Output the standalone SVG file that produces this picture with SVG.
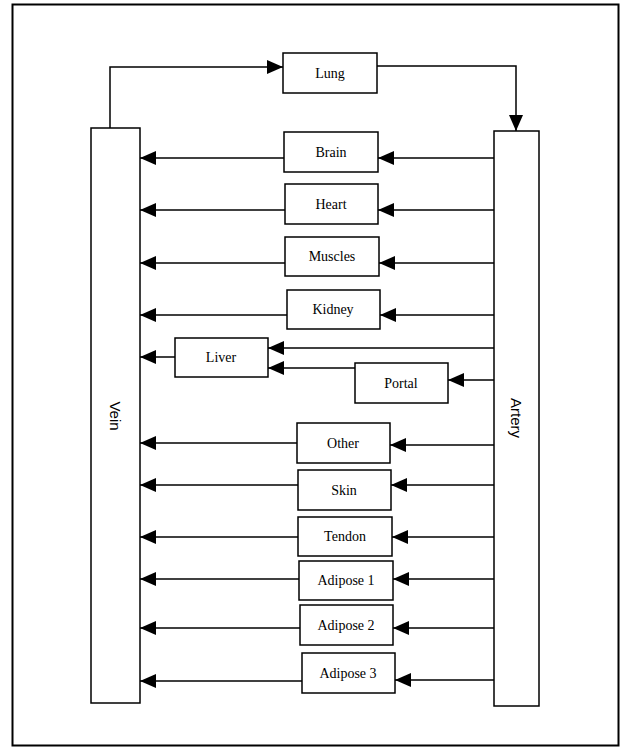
<svg xmlns="http://www.w3.org/2000/svg" width="621" height="747" viewBox="0 0 621 747">
<style>
.frame{fill:none;stroke:#000;stroke-width:2}
.box{fill:#fff;stroke:#000;stroke-width:1.5}
.lbl{font-family:"Liberation Serif","Times New Roman",serif;font-size:14px;text-anchor:middle;fill:#000}
.side{font-family:"Liberation Sans",Arial,sans-serif;font-size:15px;text-anchor:middle;fill:#000}
.c{fill:none;stroke:#000;stroke-width:1.5}
</style>
<defs>
<marker id="ah" viewBox="0 0 16 14" refX="16" refY="7" markerWidth="16" markerHeight="14" markerUnits="userSpaceOnUse" orient="auto"><path d="M0,0 L16,7 L0,14 z" fill="#000"/></marker>
</defs>
<rect class="frame" x="12.5" y="4.5" width="606" height="741"/>
<g id="connectors">
<path class="c" d="M110,128 V67 H283" marker-end="url(#ah)"/>
<path class="c" d="M377,66 H516 V131" marker-end="url(#ah)"/>
<path class="c" d="M494,158 H378" marker-end="url(#ah)"/>
<path class="c" d="M284,158 H140" marker-end="url(#ah)"/>
<path class="c" d="M494,210 H378" marker-end="url(#ah)"/>
<path class="c" d="M285,210 H140" marker-end="url(#ah)"/>
<path class="c" d="M494,263 H379" marker-end="url(#ah)"/>
<path class="c" d="M285,263 H140" marker-end="url(#ah)"/>
<path class="c" d="M494,315 H380" marker-end="url(#ah)"/>
<path class="c" d="M287,315 H140" marker-end="url(#ah)"/>
<path class="c" d="M494,348 H268" marker-end="url(#ah)"/>
<path class="c" d="M355,368 H268" marker-end="url(#ah)"/>
<path class="c" d="M175,357 H140" marker-end="url(#ah)"/>
<path class="c" d="M494,380 H448" marker-end="url(#ah)"/>
<path class="c" d="M494,445 H390" marker-end="url(#ah)"/>
<path class="c" d="M297,443 H140" marker-end="url(#ah)"/>
<path class="c" d="M494,485 H391" marker-end="url(#ah)"/>
<path class="c" d="M298,485 H140" marker-end="url(#ah)"/>
<path class="c" d="M494,537 H392" marker-end="url(#ah)"/>
<path class="c" d="M298,537 H140" marker-end="url(#ah)"/>
<path class="c" d="M494,579 H393" marker-end="url(#ah)"/>
<path class="c" d="M299,579 H140" marker-end="url(#ah)"/>
<path class="c" d="M494,628 H393" marker-end="url(#ah)"/>
<path class="c" d="M300,628 H140" marker-end="url(#ah)"/>
<path class="c" d="M494,680 H395" marker-end="url(#ah)"/>
<path class="c" d="M302,681 H140" marker-end="url(#ah)"/>
</g>
<g id="vein"><rect class="box" x="91" y="128" width="49" height="575"/><text class="side" transform="translate(115,416) rotate(90)" dominant-baseline="central">Vein</text></g>
<g id="artery"><rect class="box" x="494" y="131" width="45" height="575"/><text class="side" transform="translate(516,418) rotate(90)" dominant-baseline="central">Artery</text></g>
<g id="lung"><rect class="box" x="283" y="53" width="94" height="40"/><text class="lbl" x="330" y="78">Lung</text></g>
<g id="brain"><rect class="box" x="284" y="132" width="94" height="40"/><text class="lbl" x="331" y="157">Brain</text></g>
<g id="heart"><rect class="box" x="285" y="184" width="93" height="40"/><text class="lbl" x="331" y="209">Heart</text></g>
<g id="muscles"><rect class="box" x="285" y="237" width="94" height="39"/><text class="lbl" x="332" y="261">Muscles</text></g>
<g id="kidney"><rect class="box" x="287" y="290" width="93" height="39"/><text class="lbl" x="333" y="314">Kidney</text></g>
<g id="liver"><rect class="box" x="175" y="338" width="93" height="39"/><text class="lbl" x="221" y="362">Liver</text></g>
<g id="portal"><rect class="box" x="355" y="363" width="93" height="40"/><text class="lbl" x="401" y="388">Portal</text></g>
<g id="other"><rect class="box" x="297" y="423" width="93" height="40"/><text class="lbl" x="343" y="448">Other</text></g>
<g id="skin"><rect class="box" x="298" y="470" width="93" height="40"/><text class="lbl" x="344" y="495">Skin</text></g>
<g id="tendon"><rect class="box" x="298" y="517" width="94" height="39"/><text class="lbl" x="345" y="541">Tendon</text></g>
<g id="adipose1"><rect class="box" x="299" y="561" width="94" height="39"/><text class="lbl" x="346" y="585">Adipose 1</text></g>
<g id="adipose2"><rect class="box" x="300" y="605" width="93" height="40"/><text class="lbl" x="346" y="630">Adipose 2</text></g>
<g id="adipose3"><rect class="box" x="302" y="653" width="93" height="40"/><text class="lbl" x="348" y="678">Adipose 3</text></g>
</svg>
